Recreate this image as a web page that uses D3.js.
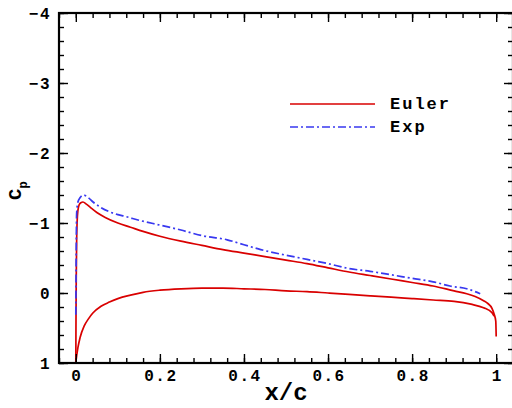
<!DOCTYPE html>
<html>
<head>
<meta charset="utf-8">
<script src="https://cdn.jsdelivr.net/npm/d3@7"></script>
<style>
  body { margin: 0; background: #fff; }
  text { font-family: "Liberation Mono", "DejaVu Sans Mono", monospace; font-weight: bold; }
</style>
</head>
<body>
<svg id="chart" width="512" height="408"></svg>
<script>
// Euler solution, upper (suction) surface
const upperX = [0, 0.0005, 0.001, 0.002, 0.003, 0.005, 0.008, 0.012, 0.017, 0.025, 0.035, 0.05, 0.07, 0.1, 0.13, 0.16, 0.2, 0.25, 0.3, 0.35, 0.4, 0.45, 0.5, 0.55, 0.6, 0.65, 0.7, 0.75, 0.8, 0.85, 0.9, 0.93, 0.95, 0.97, 0.98, 0.99, 0.995, 0.999, 1.0];
const upperCp = [1.0, 0.3, -0.2, -0.75, -1.0, -1.18, -1.26, -1.29, -1.30, -1.27, -1.22, -1.15, -1.08, -1.0, -0.94, -0.88, -0.81, -0.74, -0.68, -0.62, -0.57, -0.52, -0.47, -0.42, -0.36, -0.30, -0.25, -0.20, -0.15, -0.10, -0.03, 0.01, 0.05, 0.11, 0.15, 0.22, 0.30, 0.40, 0.62];
// Euler solution, lower (pressure) surface
const lowerX = [0, 0.002, 0.005, 0.01, 0.02, 0.03, 0.04, 0.06, 0.08, 0.1, 0.13, 0.16, 0.2, 0.25, 0.3, 0.35, 0.4, 0.45, 0.5, 0.55, 0.6, 0.65, 0.7, 0.75, 0.8, 0.85, 0.9, 0.94, 0.97, 0.99, 0.995];
const lowerCp = [1.0, 0.9, 0.78, 0.64, 0.47, 0.37, 0.29, 0.19, 0.13, 0.08, 0.03, -0.01, -0.04, -0.06, -0.07, -0.07, -0.06, -0.05, -0.03, -0.02, 0.0, 0.02, 0.04, 0.06, 0.08, 0.10, 0.12, 0.16, 0.21, 0.28, 0.33];
// experiment
const expX = [0, 0.002, 0.005, 0.01, 0.018, 0.03, 0.041, 0.06, 0.08, 0.1, 0.12, 0.15, 0.2, 0.25, 0.28, 0.3, 0.36, 0.4, 0.44, 0.5, 0.55, 0.6, 0.65, 0.7, 0.75, 0.8, 0.85, 0.89, 0.93, 0.962];
const expCp = [0.31, -1.14, -1.30, -1.36, -1.40, -1.36, -1.30, -1.22, -1.16, -1.12, -1.09, -1.04, -0.97, -0.90, -0.85, -0.82, -0.76, -0.69, -0.62, -0.54, -0.48, -0.42, -0.35, -0.31, -0.26, -0.21, -0.16, -0.10, -0.06, 0.01];

const xTicks = [0, 0.2, 0.4, 0.6, 0.8, 1];
const xTickLabels = ["0", "0.2", "0.4", "0.6", "0.8", "1"];
const yTicks = [-4, -3, -2, -1, 0, 1];
const yTickLabels = ["\u22124", "\u22123", "\u22122", "\u22121", "0", "1"];

const svg = d3.select("#chart");
const mLeft = 59, mRight = 513, mTop = 13, mBottom = 363;

const x = d3.scaleLinear().domain([-0.04, 1.04]).range([mLeft, mRight]);
const y = d3.scaleLinear().domain([-4, 1]).range([mTop, mBottom]);

svg.append("clipPath").attr("id", "clip")
    .append("rect").attr("x", mLeft).attr("y", mTop)
    .attr("width", mRight - mLeft).attr("height", mBottom - mTop);

const plot = svg.append("g").attr("clip-path", "url(#clip)");

const line = d3.line()
    .x((d) => x(d[0]))
    .y((d) => y(d[1]))
    .curve(d3.curveMonotoneX);

const red = "#d90000", blue = "#3838f0";

plot.append("path")
    .datum(d3.zip(upperX, upperCp))
    .attr("d", line)
    .attr("fill", "none").attr("stroke", red).attr("stroke-width", 1.7);
plot.append("path")
    .datum(d3.zip(lowerX, lowerCp))
    .attr("d", line)
    .attr("fill", "none").attr("stroke", red).attr("stroke-width", 1.7);
plot.append("path")
    .datum(d3.zip(expX, expCp))
    .attr("d", line)
    .attr("fill", "none").attr("stroke", blue).attr("stroke-width", 1.7)
    .attr("stroke-dasharray", "8,3,2,3");

// axes: ticks point inward on all four sides
const xMinor = d3.range(-0.04, 1.041, 0.04).map((v) => +v.toFixed(2));
const yMinor = d3.range(-4, 1.001, 0.2).map((v) => +v.toFixed(1));

function addAxis(axisFn, scale, minor, major, transform) {
    const gMinor = svg.append("g").attr("transform", transform);
    gMinor.call(axisFn(scale).tickValues(minor).tickSize(-5).tickFormat(""));
    const gMajor = svg.append("g").attr("transform", transform);
    gMajor.call(axisFn(scale).tickValues(major).tickSize(-9).tickFormat(""));
    [gMinor, gMajor].forEach((g) => {
        g.select(".domain").remove();
        g.selectAll(".tick line").attr("stroke", "#000").attr("stroke-width", 1.4);
    });
}

addAxis(d3.axisBottom, x, xMinor, xTicks, `translate(0,${mBottom})`);
addAxis(d3.axisTop, x, xMinor, xTicks, `translate(0,${mTop})`);
addAxis(d3.axisLeft, y, yMinor, yTicks, `translate(${mLeft},0)`);
addAxis(d3.axisRight, y, yMinor, yTicks, `translate(${mRight},0)`);

// frame
svg.append("rect")
    .attr("x", mLeft).attr("y", mTop)
    .attr("width", mRight - mLeft).attr("height", mBottom - mTop)
    .attr("fill", "none").attr("stroke", "#000").attr("stroke-width", 2.2);

// tick labels
svg.append("g").selectAll("text")
    .data(xTicks)
    .join("text")
    .attr("x", (d) => x(d) + 1)
    .attr("y", mBottom + 18)
    .attr("text-anchor", "middle")
    .attr("font-size", 16)
    .attr("letter-spacing", 1.5)
    .text((d, i) => xTickLabels[i]);

svg.append("g").selectAll("text")
    .data(yTicks)
    .join("text")
    .attr("x", mLeft - 8)
    .attr("y", (d) => y(d) + 6)
    .attr("text-anchor", "end")
    .attr("font-size", 16)
    .attr("letter-spacing", 1.5)
    .text((d, i) => yTickLabels[i]);

// axis titles
svg.append("text")
    .attr("x", 286).attr("y", 400)
    .attr("text-anchor", "middle")
    .attr("font-size", 24)
    .text("x/c");

const yTitle = svg.append("text")
    .attr("transform", "translate(21,200) rotate(-90)")
    .attr("font-size", 19);
yTitle.append("tspan").text("C");
yTitle.append("tspan").attr("font-size", 12).attr("dy", 6).text("p");

// legend
const legend = svg.append("g");
const legendItems = [
    { name: "Euler", color: red, dash: null, yy: 104 },
    { name: "Exp", color: blue, dash: "8,3,2,3", yy: 127 },
];
legendItems.forEach((it) => {
    legend.append("line")
        .attr("x1", 290).attr("x2", 375)
        .attr("y1", it.yy).attr("y2", it.yy)
        .attr("stroke", it.color).attr("stroke-width", 1.6)
        .attr("stroke-dasharray", it.dash);
    legend.append("text")
        .attr("x", 390).attr("y", it.yy + 5)
        .attr("font-size", 17)
        .attr("letter-spacing", 2)
        .text(it.name);
});
</script>
</body>
</html>
